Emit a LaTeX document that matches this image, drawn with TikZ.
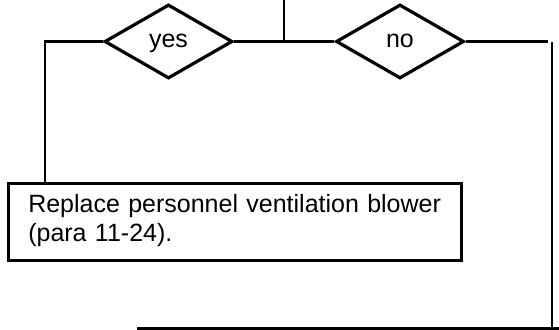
\documentclass[tikz,border=0pt]{standalone}
\usepackage{fontspec}
\setmainfont{Liberation Sans}
\usetikzlibrary{shapes.geometric}

\begin{document}
\begin{tikzpicture}[x=0.5pt,y=-0.5pt,line width=1.4pt,line cap=butt,
  font=\fontsize{12.5pt}{14.5pt}\selectfont,
  choice/.style={draw,diamond,inner sep=0pt,minimum width=64pt,minimum height=37pt,line width=1.6pt,text height=6.5pt,text depth=0pt},
  action/.style={draw,rectangle,line width=1.7pt,align=left,text width=206.9pt,inner xsep=9.8pt,inner ysep=5pt,text height=9.5pt,text depth=19pt}]
\useasboundingbox (0,0) rectangle (559,330);
\node[choice] (yes) at (168.5,41.5) {yes};
\node[choice] (no) at (400,41.5) {no};
\node[action,anchor=north west] (blower) at (7,182) {Replace personnel ventilation blower\\(para 11-24).};
\coordinate (in) at (284,0);
\coordinate (yesl) at (45,41.5);
\coordinate (noe) at (548,41.5);
\coordinate (rtop) at (552,42);
\coordinate (rbot) at (552,329);
\coordinate (botl) at (137,328.5);
\coordinate (botr) at (559,328.5);
\draw (in) -- (in |- yes.east);
\draw (yes.east) -- (no.west);
\draw (yes.west) -- (yesl) -- (yesl |- blower.north);
\draw (no.east) -- (noe);
\draw (rtop) -- (rbot);
\draw (botl) -- (botr);
\end{tikzpicture}
\end{document}
